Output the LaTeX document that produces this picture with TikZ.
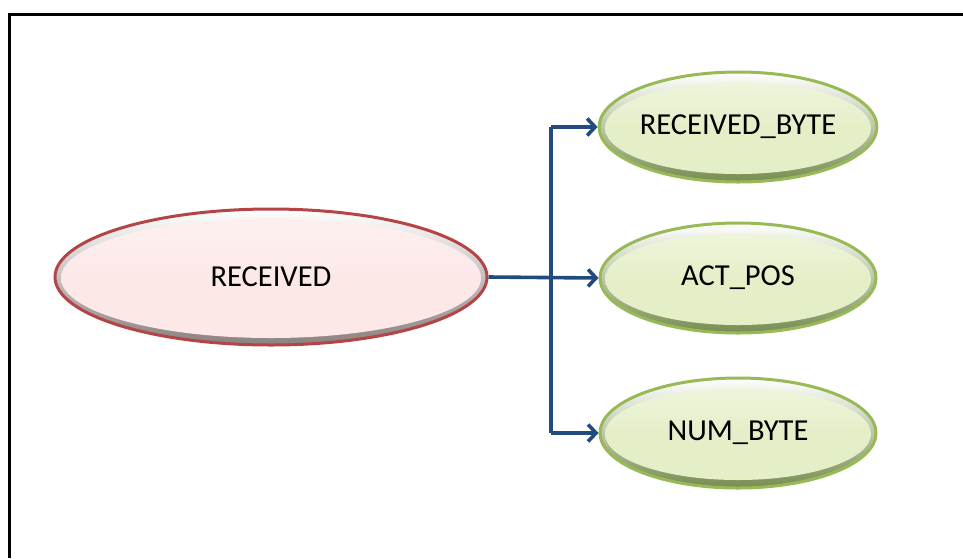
\documentclass[tikz,border=0pt]{standalone}
\usepackage{fontspec}
\setmainfont{Carlito}
\usetikzlibrary{shapes.geometric,arrows.meta}
\definecolor{redline}{RGB}{180,68,70}
\definecolor{redfill}{RGB}{253,232,232}
\definecolor{redrim}{RGB}{140,128,128}
\definecolor{greenline}{RGB}{152,186,86}
\definecolor{greenfill}{RGB}{228,239,200}
\definecolor{greenrim}{RGB}{120,140,80}
\definecolor{linkblue}{RGB}{33,75,125}
\tikzset{
  bubble/.style={ellipse, inner sep=0pt, line width=3pt,
    top color=white, font=\fontsize{30.5}{34}\selectfont},
  redbubble/.style={bubble, draw=redline, bottom color=redrim,
    minimum width=432pt, minimum height=136pt,
    path picture={\shade[top color=redfill!60!white, bottom color=redfill, middle color=redfill]
      ([yshift=-1pt]path picture bounding box.center) ellipse (210pt and 60pt);}},
  greenbubble/.style={bubble, draw=greenline, bottom color=greenrim,
    minimum width=276pt, minimum height=110pt,
    path picture={\shade[top color=greenfill!55!white, bottom color=greenfill, middle color=greenfill]
      ([yshift=-1pt]path picture bounding box.center) ellipse (133pt and 46pt);}},
  link/.style={draw=linkblue, line width=3.6pt},
  linkarrow/.style={link, -{Straight Barb[length=8pt,width=17pt,line width=3.6pt]}}
}
\begin{document}
\begin{tikzpicture}[x=1pt,y=-1pt]
  \useasboundingbox (0,0) rectangle (963,558);
  % open frame: left and top edges
  \coordinate (frameBL) at (9.5,558);
  \coordinate (frameTL) at (9.5,14.5);
  \coordinate (frameTR) at (963,14.5);
  \draw[line width=3.8pt] (frameBL) -- (frameTL) -- (frameTR);

  \node[redbubble]   (recv)  at (271,277) {RECEIVED};
  \node[greenbubble] (rbyte) at (738,127) {RECEIVED\_BYTE};
  \node[greenbubble] (apos)  at (738,278) {ACT\_POS};
  \node[greenbubble] (nbyte) at (738,433) {NUM\_BYTE};

  \coordinate (fork) at (551,0);
  \draw[linkarrow] (recv.east) -- (apos.west);
  \draw[link] (fork |- rbyte.west) -- (fork |- nbyte.west);
  \draw[linkarrow] (fork |- rbyte.west) -- (rbyte.west);
  \draw[linkarrow] (fork |- nbyte.west) -- (nbyte.west);
\end{tikzpicture}
\end{document}
